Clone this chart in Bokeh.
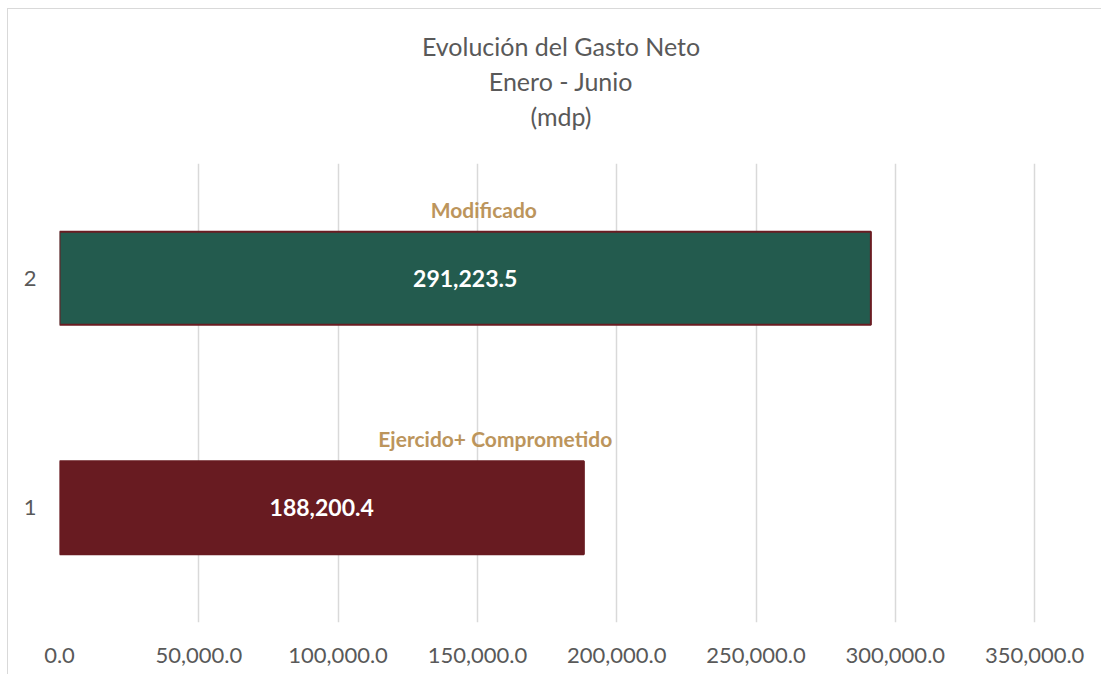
from bokeh.plotting import figure
from bokeh.models import (FactorRange, Range1d, FixedTicker, NumeralTickFormatter,
                          ColumnDataSource, Title, LinearAxis)
from bokeh.transform import dodge
from bokeh.core.properties import value
from bokeh.embed import file_html
from bokeh.resources import INLINE

# ---- data ----
categories = ["1", "2"]
series_names = ["Ejercido+ Comprometido", "Modificado"]
values = [188200.4, 291223.5]
value_labels = ["188,200.4", "291,223.5"]
bar_colors = ["#681B21", "#235B4E"]
bar_outline = ["#681B21", "#6A1C22"]
x_ticks = [0, 50000, 100000, 150000, 200000, 250000, 300000, 350000]
title_lines = ["Evolución del Gasto Neto", "Enero - Junio", "(mdp)"]
name_label_x = [156400, 152300]

W, H = 1094, 666
FONT = "Lato"
GRAY = "#595959"

p = figure(width=W, height=H, output_backend="svg", toolbar_location=None,
           y_range=FactorRange(factors=categories),
           x_range=Range1d(0, 360000),
           min_border_left=51, min_border_right=40,
           min_border_top=154, min_border_bottom=53)
p.outline_line_color = None
p.background_fill_color = "white"
p.border_fill_color = "white"
p.styles = {"margin-left": "7px", "margin-top": "8px",
            "border-left": "1px solid #d9d9d9", "border-top": "1px solid #d9d9d9"}

xaxis = p.below[0]
xaxis.ticker = FixedTicker(ticks=x_ticks)
xaxis.formatter = NumeralTickFormatter(format="0,0.0")

# invisible spacer between the frame and the title lines
spacer = LinearAxis(ticker=FixedTicker(ticks=[0]), axis_line_color=None,
                    major_tick_line_color=None, minor_tick_line_color=None,
                    major_tick_out=30, major_tick_in=0, major_label_standoff=0,
                    major_label_overrides={0: ""}, major_label_text_font_size="0px")
p.add_layout(spacer, "above")

for txt in reversed(title_lines):
    p.add_layout(Title(text=txt, align="center", vertical_align="middle",
                       text_font=FONT, text_font_size="25px", text_font_style="normal",
                       text_color=GRAY, standoff=2.5), "above")

src = ColumnDataSource(dict(cat=categories, val=values, half=[v / 2 for v in values],
                            lab=value_labels, name=series_names, color=bar_colors,
                            outline=bar_outline, nx=name_label_x))

p.hbar(y="cat", right="val", left=0, height=0.405, source=src,
       fill_color="color", line_color="outline", line_width=2)

p.text(x="half", y="cat", text="lab", source=src, text_color="white",
       text_font=value(FONT), text_font_style="bold", text_font_size="23px",
       text_align="center", text_baseline="middle")

p.text(x="nx", y=dodge("cat", 0.30, range=p.y_range), text="name", source=src,
       text_color="#BC955C", text_font=value(FONT), text_font_style="bold",
       text_font_size="21px", text_align="center", text_baseline="middle")

# axes
yaxis = p.left[0]
for ax in (xaxis, yaxis):
    ax.axis_line_color = None
    ax.major_tick_line_color = None
    ax.minor_tick_line_color = None
    ax.major_label_text_color = GRAY
    ax.major_label_text_font = FONT
    ax.major_label_text_font_size = "22px"
xaxis.major_label_standoff = 19
yaxis.major_label_standoff = 17

p.ygrid.grid_line_color = None
p.xgrid.grid_line_color = "#D9D9D9"
p.xgrid.grid_line_width = 1.5

open("out.html", "w").write(file_html(p, INLINE))
